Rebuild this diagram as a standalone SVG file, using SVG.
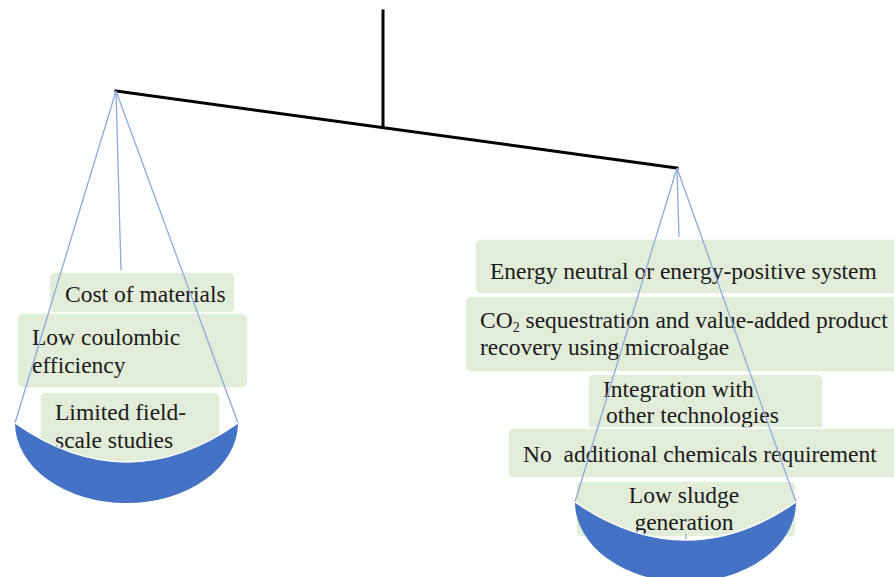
<svg xmlns="http://www.w3.org/2000/svg" width="894" height="577" viewBox="0 0 894 577">
<style>
.box{fill:#E2EDD9;stroke:#ffffff;stroke-width:1.5}
.t{font-family:"Liberation Serif","Times New Roman",serif;font-size:23.5px;fill:#1a1a1a}
.str{stroke:#8EA9DB;stroke-width:1.3;fill:none}
.beam{stroke:#000;stroke-width:3;fill:none;stroke-linecap:square}
.pan{fill:#4472C4}
.rim{fill:none;stroke:#ffffff;stroke-width:1.5}
</style>
<rect width="894" height="577" fill="#ffffff"/>
<g id="beam">
<line class="beam" x1="383" y1="11" x2="383" y2="127"/>
<line class="beam" x1="116" y1="91" x2="677" y2="168"/>
</g>
<g id="left-items">
<g id="cost"><rect class="box" x="49" y="272" width="186" height="41" rx="6"/><text class="t" x="65" y="302">Cost of materials</text></g>
<g id="coulombic"><rect class="box" x="17" y="313" width="231" height="75" rx="6"/><text class="t" x="32" y="345">Low coulombic</text><text class="t" x="32" y="373">efficiency</text></g>
<g id="field"><rect class="box" x="40" y="392" width="180" height="74" rx="6"/><text class="t" x="55" y="420">Limited field-</text><text class="t" x="55" y="448">scale studies</text></g>
</g>
<g id="right-items">
<g id="energy"><rect class="box" x="475" y="239" width="431" height="55" rx="6"/><text class="t" x="490" y="279">Energy neutral or energy-positive system</text></g>
<g id="co2"><rect class="box" x="465" y="296" width="440" height="76" rx="6"/><text class="t" x="480" y="328">CO<tspan font-size="14" baseline-shift="-4">2</tspan> sequestration and value-added product</text><text class="t" x="480" y="355">recovery using microalgae</text></g>
<g id="integration"><rect class="box" x="588" y="374" width="235" height="58" rx="6"/><text class="t" x="603" y="397">Integration with</text><text class="t" x="606" y="423">other technologies</text></g>
<g id="chemicals"><rect class="box" x="508" y="428" width="398" height="50" rx="6"/><text class="t" x="523" y="462" xml:space="preserve">No  additional chemicals requirement</text></g>
<g id="sludge"><rect class="box" x="576" y="481" width="220" height="56" rx="6"/><text class="t" x="684" y="503" text-anchor="middle">Low sludge</text><text class="t" x="684" y="530" text-anchor="middle">generation</text></g>
</g>
<g id="connectors">
<line class="str" x1="116" y1="91" x2="15" y2="423"/>
<line class="str" x1="116" y1="91" x2="238" y2="423"/>
<line class="str" x1="116" y1="91" x2="121" y2="270"/>
<line class="str" x1="677" y1="168" x2="575" y2="502"/>
<line class="str" x1="677" y1="168" x2="796" y2="502"/>
<line class="str" x1="677" y1="168" x2="679" y2="237"/>
<line class="str" x1="686" y1="534" x2="686" y2="546"/>
</g>
<g id="left-pan">
<path class="pan" d="M15,423 Q127,501 238,423 A111.5,80 0 0 1 15,423 Z"/>
<path class="rim" d="M15,423 Q127,501 238,423"/>
</g>
<g id="right-pan">
<path class="pan" d="M575,502 Q686,578 796,502 A110.5,80 0 0 1 575,502 Z"/>
<path class="rim" d="M575,502 Q686,578 796,502"/>
</g>
</svg>
